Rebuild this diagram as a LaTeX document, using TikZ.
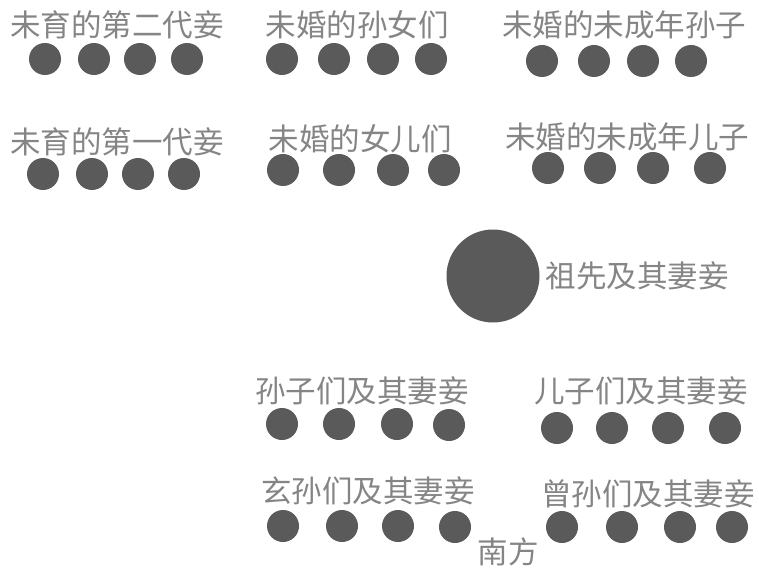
\documentclass[tikz,border=0pt]{standalone}
\usepackage{fontspec}
\newfontfamily\cjk{Noto Sans CJK SC}
\definecolor{dotgray}{HTML}{5A5A5A}
\definecolor{txtgray}{HTML}{858585}
\begin{document}
\begin{tikzpicture}[x=1pt,y=-1pt,
  lbl/.style={inner sep=0pt,text=txtgray,font=\cjk\fontsize{30.5}{30.5}\selectfont},
  dot/.style={circle,fill=dotgray,draw=none,minimum size=32pt,inner sep=0pt},
  bigdot/.style={circle,fill=dotgray,draw=none,minimum size=93pt,inner sep=0pt}]
\useasboundingbox[fill=white] (0,0) rectangle (759,567);
% top-left
\node[lbl] (t1) at (117,25) {未育的第二代妾};
\node[dot] (t1a) at (45,59) {};
\node[dot] (t1b) at (94,59) {};
\node[dot] (t1c) at (140,59) {};
\node[dot] (t1d) at (187,59) {};
\node[lbl] (t2) at (117,142) {未育的第一代妾};
\node[dot] (t2a) at (43,174) {};
\node[dot] (t2b) at (92,174) {};
\node[dot] (t2c) at (138,174) {};
\node[dot] (t2d) at (184,174) {};
% middle
\node[lbl] (m1) at (357,25) {未婚的孙女们};
\node[dot] (m1a) at (282,59) {};
\node[dot] (m1b) at (334,59) {};
\node[dot] (m1c) at (383,59) {};
\node[dot] (m1d) at (431,59) {};
\node[lbl] (m2) at (360,139) {未婚的女儿们};
\node[dot] (m2a) at (283,170) {};
\node[dot] (m2b) at (339,170) {};
\node[dot] (m2c) at (393,170) {};
\node[dot] (m2d) at (444,170) {};
% right
\node[lbl] (r1) at (624,25) {未婚的未成年孙子};
\node[dot] (r1a) at (542,61) {};
\node[dot] (r1b) at (594,61) {};
\node[dot] (r1c) at (643,61) {};
\node[dot] (r1d) at (691,61) {};
\node[lbl] (r2) at (627,137) {未婚的未成年儿子};
\node[dot] (r2a) at (548,168) {};
\node[dot] (r2b) at (600,168) {};
\node[dot] (r2c) at (653,168) {};
\node[dot] (r2d) at (710,168) {};
% ancestor
\node[bigdot] (anc) at (493,276) {};
\node[lbl] (ancl) at (637,276) {祖先及其妻妾};
% bottom-left
\node[lbl] (b1) at (362,391) {孙子们及其妻妾};
\node[dot] (b1a) at (282,424) {};
\node[dot] (b1b) at (339,424) {};
\node[dot] (b1c) at (397,424) {};
\node[dot] (b1d) at (449,425) {};
\node[lbl] (b2) at (368,491) {玄孙们及其妻妾};
\node[dot] (b2a) at (283,526) {};
\node[dot] (b2b) at (342,526) {};
\node[dot] (b2c) at (398,526) {};
\node[dot] (b2d) at (455,527) {};
% bottom-right
\node[lbl] (c1) at (641,391) {儿子们及其妻妾};
\node[dot] (c1a) at (557,428) {};
\node[dot] (c1b) at (612,428) {};
\node[dot] (c1c) at (668,428) {};
\node[dot] (c1d) at (725,428) {};
\node[lbl] (c2) at (648,494) {曾孙们及其妻妾};
\node[dot] (c2a) at (562,527) {};
\node[dot] (c2b) at (622,527) {};
\node[dot] (c2c) at (680,527) {};
\node[dot] (c2d) at (732,527) {};
% south
\node[lbl] (south) at (508,552) {南方};
\end{tikzpicture}
\end{document}
